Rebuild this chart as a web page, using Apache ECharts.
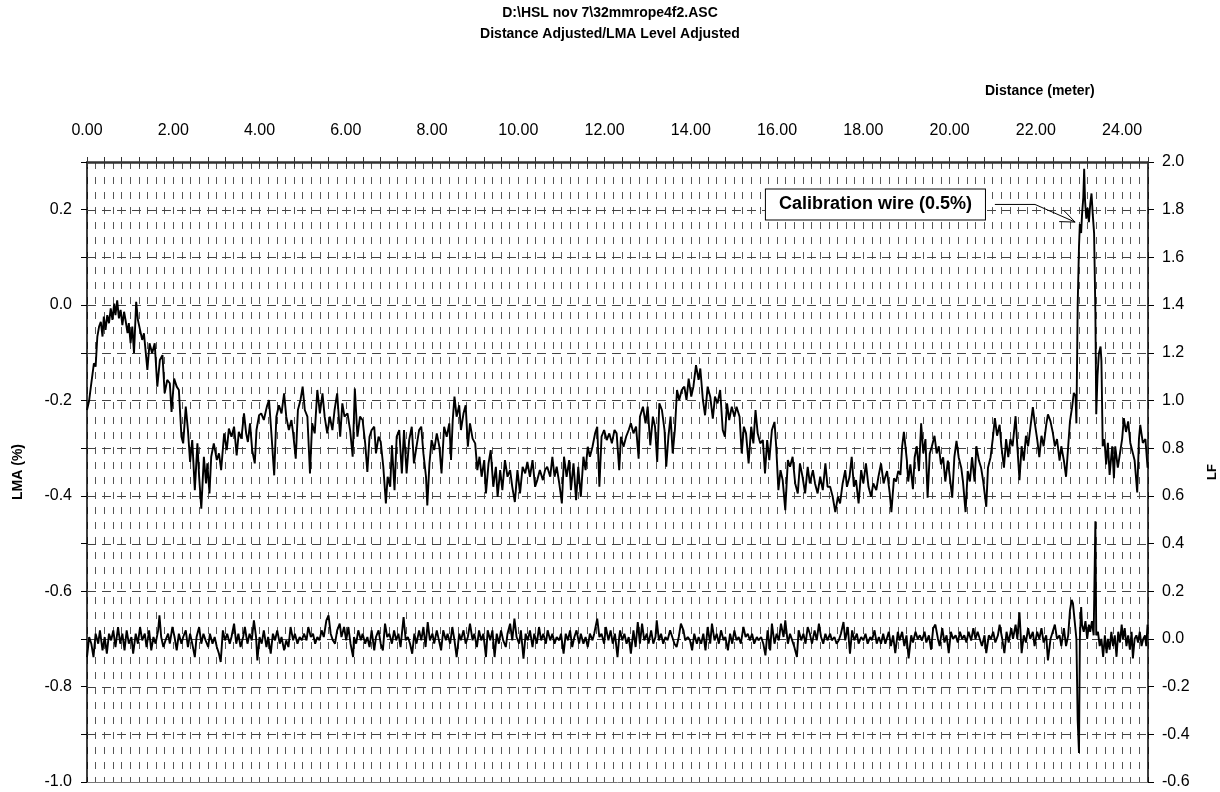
<!DOCTYPE html>
<html>
<head>
<meta charset="utf-8">
<title>LMA / LF trace</title>
<script src="https://cdn.jsdelivr.net/npm/echarts@6/dist/echarts.min.js"></script>
<style>
  html, body { margin: 0; padding: 0; background: #fff; }
  #chart { width: 1220px; height: 792px; }
</style>
</head>
<body>
<div id="chart"></div>
<script>
// ---- data ----
const titleLines = ['D:\\HSL nov 7\\32mmrope4f2.ASC', 'Distance Adjusted/LMA Level Adjusted'];
const distanceName = 'Distance (meter)';
const lmaName = 'LMA (%)';
const lfName = 'LF';
const calloutText = 'Calibration wire (0.5%)';

// LMA (%) along the rope: [distance m, value]
const lmaTrace = [
[0.00,-0.220],[0.05,-0.200],[0.09,-0.171],[0.12,-0.150],[0.16,-0.122],[0.20,-0.129],[0.24,-0.066],[0.28,-0.045],
[0.32,-0.035],[0.36,-0.066],[0.39,-0.024],[0.43,-0.052],[0.47,-0.021],[0.51,-0.038],[0.55,-0.007],[0.59,-0.031],
[0.63,0.003],[0.66,-0.021],[0.70,0.010],[0.74,-0.028],[0.78,-0.010],[0.82,-0.042],[0.86,-0.014],[0.90,-0.035],
[0.94,-0.059],[0.97,-0.038],[1.01,-0.080],[1.05,-0.045],[1.09,-0.101],[1.14,0.007],[1.18,-0.031],[1.23,-0.052],
[1.28,-0.073],[1.32,-0.059],[1.40,-0.136],[1.45,-0.080],[1.51,-0.101],[1.57,-0.080],[1.63,-0.171],[1.69,-0.115],
[1.75,-0.105],[1.80,-0.185],[1.86,-0.157],[1.92,-0.164],[1.96,-0.224],[2.02,-0.154],[2.08,-0.171],[2.13,-0.178],
[2.19,-0.276],[2.23,-0.290],[2.29,-0.213],[2.34,-0.262],[2.39,-0.329],[2.44,-0.283],[2.50,-0.388],[2.56,-0.290],
[2.60,-0.360],[2.65,-0.427],[2.71,-0.318],[2.76,-0.374],[2.79,-0.332],[2.84,-0.395],[2.88,-0.318],[2.94,-0.290],
[3.01,-0.325],[3.06,-0.311],[3.11,-0.346],[3.18,-0.269],[3.24,-0.304],[3.29,-0.259],[3.35,-0.276],[3.41,-0.255],
[3.47,-0.315],[3.52,-0.266],[3.58,-0.280],[3.64,-0.227],[3.69,-0.269],[3.73,-0.287],[3.78,-0.248],[3.83,-0.304],
[3.89,-0.332],[3.93,-0.262],[3.99,-0.231],[4.04,-0.227],[4.10,-0.241],[4.17,-0.213],[4.22,-0.199],[4.27,-0.262],
[4.34,-0.357],[4.39,-0.234],[4.45,-0.210],[4.51,-0.227],[4.57,-0.185],[4.62,-0.234],[4.68,-0.262],[4.74,-0.241],
[4.78,-0.269],[4.84,-0.322],[4.89,-0.220],[4.95,-0.199],[5.00,-0.171],[5.05,-0.220],[5.11,-0.234],[5.17,-0.353],
[5.22,-0.248],[5.28,-0.269],[5.34,-0.178],[5.40,-0.227],[5.46,-0.185],[5.51,-0.234],[5.57,-0.269],[5.63,-0.234],
[5.69,-0.262],[5.74,-0.220],[5.80,-0.185],[5.87,-0.276],[5.92,-0.206],[5.97,-0.234],[6.04,-0.227],[6.10,-0.262],
[6.16,-0.318],[6.21,-0.175],[6.27,-0.276],[6.33,-0.234],[6.39,-0.241],[6.45,-0.290],[6.50,-0.350],[6.55,-0.276],
[6.60,-0.262],[6.66,-0.255],[6.70,-0.311],[6.76,-0.276],[6.81,-0.287],[6.87,-0.339],[6.93,-0.416],[6.97,-0.360],
[7.03,-0.381],[7.07,-0.294],[7.13,-0.388],[7.18,-0.276],[7.24,-0.262],[7.30,-0.353],[7.35,-0.262],[7.41,-0.353],
[7.47,-0.283],[7.53,-0.255],[7.58,-0.332],[7.64,-0.297],[7.70,-0.262],[7.75,-0.255],[7.80,-0.311],[7.86,-0.360],
[7.89,-0.420],[7.94,-0.332],[7.99,-0.283],[8.05,-0.304],[8.11,-0.269],[8.17,-0.297],[8.22,-0.353],[8.28,-0.255],
[8.34,-0.276],[8.40,-0.248],[8.44,-0.325],[8.48,-0.241],[8.52,-0.192],[8.57,-0.234],[8.63,-0.210],[8.67,-0.262],
[8.73,-0.227],[8.78,-0.210],[8.83,-0.297],[8.88,-0.248],[8.94,-0.280],[9.00,-0.290],[9.05,-0.346],[9.10,-0.318],
[9.15,-0.360],[9.21,-0.325],[9.25,-0.395],[9.31,-0.332],[9.36,-0.304],[9.42,-0.381],[9.48,-0.339],[9.52,-0.402],
[9.58,-0.346],[9.63,-0.388],[9.69,-0.325],[9.75,-0.360],[9.81,-0.346],[9.86,-0.381],[9.92,-0.413],[9.98,-0.346],
[10.04,-0.395],[10.10,-0.339],[10.16,-0.353],[10.21,-0.329],[10.27,-0.360],[10.33,-0.325],[10.39,-0.381],[10.44,-0.367],
[10.50,-0.346],[10.57,-0.367],[10.62,-0.346],[10.67,-0.339],[10.74,-0.360],[10.79,-0.318],[10.84,-0.360],[10.89,-0.339],
[10.95,-0.374],[11.01,-0.416],[11.06,-0.318],[11.12,-0.360],[11.18,-0.325],[11.22,-0.388],[11.28,-0.332],[11.34,-0.409],
[11.39,-0.339],[11.45,-0.402],[11.51,-0.318],[11.56,-0.346],[11.61,-0.297],[11.66,-0.318],[11.72,-0.297],[11.78,-0.269],
[11.83,-0.255],[11.88,-0.381],[11.93,-0.276],[11.99,-0.262],[12.05,-0.283],[12.11,-0.269],[12.17,-0.290],[12.23,-0.262],
[12.28,-0.269],[12.34,-0.346],[12.38,-0.276],[12.44,-0.297],[12.50,-0.276],[12.56,-0.262],[12.61,-0.248],[12.67,-0.269],
[12.73,-0.255],[12.79,-0.322],[12.82,-0.234],[12.89,-0.213],[12.95,-0.248],[13.00,-0.213],[13.06,-0.294],[13.12,-0.234],
[13.17,-0.255],[13.22,-0.329],[13.27,-0.206],[13.33,-0.220],[13.39,-0.262],[13.43,-0.339],[13.48,-0.276],[13.53,-0.234],
[13.58,-0.311],[13.63,-0.262],[13.68,-0.178],[13.73,-0.199],[13.79,-0.178],[13.85,-0.171],[13.90,-0.199],[13.95,-0.154],
[14.01,-0.192],[14.06,-0.171],[14.12,-0.126],[14.18,-0.157],[14.22,-0.133],[14.28,-0.199],[14.33,-0.231],[14.39,-0.171],
[14.45,-0.192],[14.51,-0.238],[14.56,-0.192],[14.62,-0.206],[14.68,-0.178],[14.74,-0.262],[14.79,-0.276],[14.84,-0.206],
[14.89,-0.241],[14.95,-0.213],[15.01,-0.234],[15.06,-0.213],[15.13,-0.234],[15.18,-0.311],[15.23,-0.255],[15.28,-0.269],
[15.34,-0.332],[15.40,-0.255],[15.45,-0.290],[15.50,-0.220],[15.55,-0.269],[15.61,-0.290],[15.67,-0.283],[15.72,-0.353],
[15.77,-0.283],[15.82,-0.325],[15.88,-0.262],[15.94,-0.245],[15.98,-0.297],[16.03,-0.388],[16.08,-0.346],[16.13,-0.367],
[16.19,-0.430],[16.25,-0.325],[16.30,-0.339],[16.36,-0.318],[16.42,-0.374],[16.48,-0.395],[16.53,-0.332],[16.59,-0.360],
[16.65,-0.395],[16.71,-0.339],[16.76,-0.374],[16.83,-0.346],[16.88,-0.374],[16.94,-0.395],[17.00,-0.360],[17.06,-0.388],
[17.12,-0.332],[17.17,-0.381],[17.23,-0.381],[17.29,-0.402],[17.35,-0.434],[17.41,-0.402],[17.46,-0.416],[17.52,-0.374],
[17.58,-0.346],[17.62,-0.381],[17.68,-0.360],[17.73,-0.318],[17.78,-0.381],[17.83,-0.367],[17.89,-0.416],[17.95,-0.346],
[18.00,-0.374],[18.06,-0.332],[18.12,-0.381],[18.18,-0.402],[18.23,-0.374],[18.30,-0.388],[18.35,-0.360],[18.41,-0.332],
[18.47,-0.374],[18.50,-0.363],[18.55,-0.348],[18.61,-0.393],[18.65,-0.434],[18.71,-0.363],[18.76,-0.370],[18.81,-0.348],
[18.86,-0.356],[18.90,-0.296],[18.94,-0.266],[19.01,-0.326],[19.04,-0.370],[19.09,-0.334],[19.15,-0.386],[19.19,-0.319],
[19.24,-0.296],[19.29,-0.348],[19.34,-0.248],[19.39,-0.311],[19.44,-0.281],[19.49,-0.404],[19.54,-0.311],[19.59,-0.296],
[19.65,-0.274],[19.70,-0.311],[19.75,-0.296],[19.80,-0.334],[19.85,-0.319],[19.90,-0.370],[19.96,-0.326],[20.00,-0.356],
[20.06,-0.404],[20.11,-0.319],[20.16,-0.285],[20.21,-0.319],[20.27,-0.341],[20.31,-0.370],[20.37,-0.434],[20.42,-0.348],
[20.47,-0.370],[20.52,-0.319],[20.58,-0.370],[20.62,-0.296],[20.68,-0.326],[20.73,-0.341],[20.78,-0.370],[20.85,-0.423],
[20.89,-0.341],[20.95,-0.319],[21.00,-0.281],[21.05,-0.237],[21.10,-0.274],[21.16,-0.251],[21.20,-0.296],[21.26,-0.341],
[21.31,-0.281],[21.36,-0.319],[21.41,-0.281],[21.46,-0.296],[21.53,-0.233],[21.57,-0.296],[21.62,-0.367],[21.67,-0.296],
[21.72,-0.326],[21.77,-0.274],[21.82,-0.296],[21.87,-0.259],[21.93,-0.214],[21.97,-0.244],[22.03,-0.281],[22.08,-0.319],
[22.13,-0.274],[22.18,-0.296],[22.24,-0.251],[22.28,-0.229],[22.34,-0.244],[22.39,-0.266],[22.44,-0.296],[22.49,-0.281],
[22.55,-0.326],[22.59,-0.296],[22.65,-0.326],[22.70,-0.360],[22.75,-0.296],[22.79,-0.244],[22.84,-0.214],[22.88,-0.184],
[22.92,-0.191],[22.94,-0.248],[22.97,0.002],[23.00,0.122],[23.02,0.170],[23.05,0.151],[23.07,0.189],[23.10,0.226],
[23.12,0.286],[23.14,0.219],[23.17,0.181],[23.20,0.204],[23.23,0.174],[23.26,0.211],[23.29,0.234],[23.32,0.189],
[23.35,0.151],[23.38,-0.014],[23.40,-0.229],[23.43,-0.147],[23.46,-0.102],[23.50,-0.087],[23.52,-0.117],[23.55,-0.296],
[23.59,-0.281],[23.63,-0.334],[23.67,-0.289],[23.71,-0.356],[23.77,-0.296],[23.81,-0.363],[23.84,-0.296],[23.90,-0.341],
[23.95,-0.311],[24.00,-0.281],[24.04,-0.237],[24.09,-0.266],[24.14,-0.244],[24.19,-0.289],[24.25,-0.311],[24.29,-0.326],
[24.35,-0.393],[24.39,-0.281],[24.42,-0.251],[24.48,-0.289],[24.54,-0.281],[24.59,-0.341]
];

// LF along the rope: [distance m, value]
const lfTrace = [
[0.00,-0.076],[0.05,0.008],[0.10,-0.020],[0.15,-0.076],[0.20,0.022],[0.26,-0.020],[0.30,0.036],[0.36,-0.048],
[0.41,0.008],[0.46,-0.062],[0.51,0.022],[0.56,-0.006],[0.61,0.036],[0.66,-0.034],[0.72,0.050],[0.77,-0.020],
[0.82,0.022],[0.87,-0.048],[0.92,0.036],[0.97,-0.020],[1.03,0.008],[1.07,-0.062],[1.13,0.022],[1.18,-0.020],
[1.23,0.050],[1.28,-0.006],[1.34,0.022],[1.38,-0.034],[1.44,0.036],[1.49,-0.048],[1.54,0.008],[1.59,-0.020],
[1.65,0.036],[1.68,0.099],[1.72,0.008],[1.77,-0.034],[1.82,-0.006],[1.88,0.022],[1.92,-0.020],[1.98,0.050],
[2.03,0.008],[2.08,-0.048],[2.13,0.022],[2.19,-0.020],[2.23,0.008],[2.29,0.036],[2.34,-0.034],[2.39,0.022],
[2.44,-0.020],[2.50,-0.076],[2.54,0.008],[2.60,0.050],[2.65,-0.020],[2.70,0.022],[2.75,-0.006],[2.81,-0.034],
[2.85,0.022],[2.91,-0.020],[2.96,0.008],[3.01,-0.034],[3.06,-0.062],[3.10,-0.097],[3.15,0.036],[3.20,-0.006],
[3.25,0.022],[3.31,-0.020],[3.35,0.008],[3.41,0.064],[3.46,-0.020],[3.51,0.022],[3.56,-0.034],[3.62,0.008],
[3.66,0.050],[3.72,-0.020],[3.77,0.022],[3.82,-0.006],[3.87,0.078],[3.92,0.008],[3.95,-0.090],[4.00,0.008],
[4.05,-0.020],[4.10,0.036],[4.16,-0.034],[4.20,0.008],[4.26,-0.062],[4.31,0.022],[4.36,-0.006],[4.41,0.036],
[4.47,-0.020],[4.51,0.008],[4.57,-0.048],[4.62,-0.006],[4.67,-0.034],[4.72,0.050],[4.78,-0.006],[4.82,0.022],
[4.88,-0.020],[4.93,0.008],[4.98,-0.006],[5.03,0.022],[5.09,-0.006],[5.13,0.050],[5.19,0.008],[5.24,0.022],
[5.29,-0.020],[5.34,0.008],[5.39,-0.006],[5.44,0.036],[5.49,0.008],[5.55,0.078],[5.60,0.099],[5.65,0.022],
[5.70,-0.006],[5.75,-0.020],[5.80,0.036],[5.86,0.064],[5.90,0.008],[5.96,0.050],[6.01,-0.006],[6.06,0.050],
[6.11,-0.020],[6.17,-0.076],[6.19,0.008],[6.24,-0.020],[6.29,0.036],[6.35,-0.006],[6.39,0.022],[6.45,-0.020],
[6.50,0.008],[6.55,-0.034],[6.60,0.036],[6.66,-0.048],[6.70,0.008],[6.76,0.036],[6.81,-0.020],[6.86,-0.048],
[6.91,0.064],[6.96,0.008],[7.01,0.022],[7.07,-0.020],[7.12,0.036],[7.17,-0.006],[7.22,0.022],[7.27,-0.034],
[7.34,0.092],[7.39,-0.006],[7.44,0.008],[7.49,-0.020],[7.54,-0.062],[7.59,0.022],[7.64,-0.020],[7.70,0.036],
[7.75,-0.006],[7.80,0.050],[7.85,-0.034],[7.90,0.071],[7.95,-0.006],[8.01,0.022],[8.05,-0.020],[8.11,0.036],
[8.16,-0.006],[8.21,-0.048],[8.26,0.036],[8.32,-0.006],[8.36,0.022],[8.42,-0.020],[8.47,0.050],[8.52,-0.006],
[8.57,-0.076],[8.63,0.022],[8.67,-0.006],[8.73,0.036],[8.78,-0.020],[8.83,0.008],[8.88,0.064],[8.94,-0.006],
[8.98,0.022],[9.04,-0.034],[9.09,0.036],[9.14,-0.006],[9.19,0.022],[9.25,-0.076],[9.29,0.036],[9.35,-0.006],
[9.40,0.036],[9.45,-0.076],[9.50,0.022],[9.55,-0.020],[9.60,0.036],[9.65,-0.006],[9.71,-0.034],[9.75,0.022],
[9.81,0.064],[9.86,-0.006],[9.91,0.085],[9.96,0.008],[10.02,-0.020],[10.06,0.036],[10.12,-0.083],[10.17,0.022],
[10.22,-0.006],[10.27,0.036],[10.33,-0.034],[10.37,0.022],[10.43,-0.020],[10.48,0.050],[10.53,-0.006],[10.58,0.022],
[10.64,-0.020],[10.68,0.036],[10.74,-0.006],[10.79,0.022],[10.84,-0.020],[10.89,0.008],[10.95,-0.006],[10.99,0.022],
[11.05,-0.062],[11.10,0.022],[11.15,-0.006],[11.20,0.036],[11.25,-0.034],[11.30,0.008],[11.35,0.036],[11.41,-0.020],
[11.45,0.022],[11.51,-0.020],[11.56,0.008],[11.61,-0.034],[11.66,0.022],[11.72,-0.006],[11.76,0.022],[11.83,0.085],
[11.88,0.008],[11.93,0.022],[11.99,-0.020],[12.03,0.050],[12.09,-0.006],[12.14,0.036],[12.19,-0.020],[12.24,0.022],
[12.30,-0.076],[12.34,0.008],[12.36,0.036],[12.41,-0.006],[12.46,0.022],[12.51,-0.020],[12.56,0.008],[12.61,-0.062],
[12.67,0.036],[12.72,-0.034],[12.77,0.071],[12.82,-0.020],[12.87,0.064],[12.92,-0.006],[12.98,0.022],[13.02,-0.020],
[13.08,0.036],[13.13,-0.020],[13.18,0.008],[13.21,0.078],[13.26,-0.006],[13.31,0.022],[13.36,-0.020],[13.41,0.008],
[13.46,-0.006],[13.52,0.036],[13.57,0.008],[13.62,-0.020],[13.67,-0.034],[13.72,0.008],[13.77,0.064],[13.83,0.036],
[13.87,-0.006],[13.93,0.008],[13.98,-0.006],[14.03,-0.048],[14.08,0.022],[14.14,-0.020],[14.18,0.008],[14.24,-0.020],
[14.29,0.022],[14.34,-0.048],[14.39,0.050],[14.45,-0.020],[14.49,0.064],[14.55,-0.006],[14.60,0.022],[14.65,-0.020],
[14.70,0.036],[14.76,-0.006],[14.80,0.008],[14.86,-0.048],[14.91,0.022],[14.96,-0.020],[15.01,0.036],[15.06,-0.006],
[15.11,0.008],[15.16,-0.020],[15.22,0.050],[15.27,0.008],[15.32,0.022],[15.37,-0.006],[15.42,0.022],[15.47,-0.020],
[15.53,0.008],[15.57,-0.006],[15.63,0.008],[15.68,-0.020],[15.73,-0.069],[15.78,0.036],[15.84,-0.048],[15.88,0.064],
[15.94,-0.020],[15.99,0.022],[16.04,-0.006],[16.09,0.064],[16.15,0.008],[16.19,0.078],[16.25,-0.020],[16.30,0.022],
[16.35,-0.006],[16.40,-0.034],[16.46,-0.076],[16.50,0.036],[16.56,-0.006],[16.61,0.022],[16.66,-0.020],[16.71,0.050],
[16.76,0.022],[16.81,-0.020],[16.87,0.036],[16.92,-0.006],[16.97,0.064],[17.02,0.008],[17.07,-0.020],[17.12,0.022],
[17.17,-0.006],[17.23,0.022],[17.27,-0.006],[17.33,0.008],[17.38,-0.020],[17.43,-0.006],[17.48,0.022],[17.54,0.071],
[17.58,-0.006],[17.64,0.050],[17.69,-0.062],[17.74,0.036],[17.79,-0.006],[17.85,0.022],[17.89,-0.020],[17.95,0.008],
[18.00,-0.006],[18.05,0.022],[18.10,-0.020],[18.16,0.008],[18.20,-0.006],[18.26,0.036],[18.31,-0.020],[18.36,0.008],
[18.41,-0.020],[18.46,0.022],[18.51,-0.020],[18.54,-0.015],[18.59,0.030],[18.64,-0.030],[18.69,0.015],[18.74,-0.060],
[18.80,0.030],[18.84,-0.007],[18.90,0.030],[18.95,-0.030],[19.00,0.015],[19.05,-0.082],[19.11,0.015],[19.15,-0.015],
[19.21,0.030],[19.26,0.000],[19.31,0.015],[19.36,-0.007],[19.42,0.030],[19.46,-0.015],[19.52,0.015],[19.57,-0.045],
[19.62,0.045],[19.67,0.060],[19.73,0.000],[19.77,-0.030],[19.83,0.045],[19.88,-0.015],[19.93,0.015],[19.98,-0.060],
[20.03,0.030],[20.08,0.000],[20.14,0.015],[20.19,-0.015],[20.24,0.030],[20.29,0.000],[20.34,0.015],[20.39,-0.015],
[20.44,0.030],[20.50,-0.007],[20.55,0.045],[20.60,0.000],[20.65,0.030],[20.70,0.000],[20.75,-0.030],[20.81,0.015],
[20.85,-0.060],[20.91,0.015],[20.96,0.000],[21.01,0.030],[21.06,-0.015],[21.12,0.015],[21.16,0.060],[21.22,0.000],
[21.27,-0.060],[21.32,0.030],[21.37,-0.015],[21.43,0.045],[21.47,0.000],[21.53,0.060],[21.57,0.000],[21.62,0.112],
[21.67,-0.060],[21.72,0.015],[21.77,-0.015],[21.82,0.045],[21.87,0.000],[21.93,0.030],[21.97,-0.030],[22.03,0.030],
[22.08,0.000],[22.13,0.045],[22.18,-0.015],[22.24,0.015],[22.28,-0.090],[22.34,0.000],[22.39,0.030],[22.44,0.060],
[22.49,0.000],[22.55,0.015],[22.59,-0.030],[22.65,0.045],[22.70,-0.030],[22.75,0.015],[22.79,0.119],[22.83,0.164],
[22.86,0.149],[22.90,0.075],[22.94,0.000],[22.97,-0.343],[23.00,-0.478],[23.02,0.000],[23.05,0.134],[23.07,0.060],
[23.11,0.030],[23.15,0.075],[23.19,0.000],[23.23,0.060],[23.26,0.030],[23.30,0.075],[23.34,0.015],[23.38,0.493],
[23.40,0.015],[23.44,0.030],[23.48,-0.030],[23.52,0.000],[23.56,-0.075],[23.60,0.015],[23.64,-0.060],[23.67,0.000],
[23.71,-0.045],[23.75,0.030],[23.79,-0.030],[23.83,0.015],[23.87,-0.075],[23.91,0.030],[23.95,-0.015],[23.99,0.060],
[24.02,0.000],[24.06,0.045],[24.10,-0.030],[24.14,0.015],[24.18,-0.045],[24.22,0.030],[24.25,-0.082],[24.29,0.000],
[24.33,0.015],[24.37,-0.015],[24.41,0.030],[24.45,-0.030],[24.49,0.000],[24.53,0.015],[24.56,-0.030],[24.59,0.060]
];

// ---- chart ----
const FONT = '"Liberation Sans", Arial, sans-serif';
const X_MIN = 0, X_MAX = 24.6;
const chart = echarts.init(document.getElementById('chart'), null, { renderer: 'canvas' });

const isMultiple = (v, step) => Math.abs(v / step - Math.round(v / step)) < 1e-6;
const gridColor = '#555';

const option = {
  animation: false,
  backgroundColor: '#fff',
  textStyle: { fontFamily: FONT },
  title: [
    {
      text: titleLines.join('\n'),
      left: 'center', top: 3, padding: 0,
      textStyle: { fontFamily: FONT, fontSize: 14, fontWeight: 'bold', color: '#000', lineHeight: 21 }
    },
    {
      text: distanceName,
      left: 985, top: 84, padding: 0,
      textStyle: { fontFamily: FONT, fontSize: 14, fontWeight: 'bold', color: '#000' }
    }
  ],
  grid: { left: 87, right: 72, top: 162, bottom: 10, containLabel: false, outerBoundsMode: 'none' },
  xAxis: [
    { // labelled top axis, ticks above the line
      type: 'value', position: 'top', min: X_MIN, max: X_MAX, interval: 0.4,
      axisLine: { show: true, onZero: false, lineStyle: { color: '#333', width: 2.5 } },
      axisTick: { show: true, inside: false, length: 5, lineStyle: { color: '#333', width: 1 } },
      axisLabel: {
        margin: 23, fontSize: 16, color: '#000', fontFamily: FONT,
        formatter: v => (isMultiple(v, 2) && v < 24.5 ? v.toFixed(2) : '')
      },
      splitLine: { show: false }
    },
    { // same scale, ticks below the line
      type: 'value', position: 'top', min: X_MIN, max: X_MAX, interval: 0.4,
      axisLine: { show: false, onZero: false },
      axisTick: { show: true, inside: true, length: 5, lineStyle: { color: '#333', width: 1 } },
      axisLabel: { show: false },
      splitLine: { show: false }
    },
    { // vertical dashed grid every 0.2 m
      type: 'value', position: 'top', min: X_MIN, max: X_MAX, interval: 0.2,
      axisLine: { show: false, onZero: false }, axisTick: { show: false }, axisLabel: { show: false },
      splitLine: { show: true, lineStyle: { color: gridColor, width: 1, type: [7, 8] } }
    },
    { // plot bottom edge
      type: 'value', position: 'bottom', min: X_MIN, max: X_MAX,
      axisLine: { show: true, onZero: false, lineStyle: { color: '#777', width: 1 } },
      axisTick: { show: false }, axisLabel: { show: false }, splitLine: { show: false }
    }
  ],
  yAxis: [
    {
      type: 'value', position: 'left', min: -1.0, max: 0.3, interval: 0.1,
      name: lmaName, nameLocation: 'middle', nameRotate: 90, nameGap: 62,
      nameTextStyle: { fontFamily: FONT, fontSize: 14, fontWeight: 'bold', color: '#000' },
      axisLine: { show: true, onZero: false, lineStyle: { color: '#000', width: 1.5 } },
      axisTick: { show: true, inside: false, length: 6, lineStyle: { color: '#000', width: 1 } },
      axisLabel: {
        margin: 15, fontSize: 16, color: '#000', fontFamily: FONT,
        formatter: v => (isMultiple(v, 0.2) ? (Math.abs(v) < 1e-9 ? 0 : v).toFixed(1) : '')
      },
      splitLine: { show: false }
    },
    {
      type: 'value', position: 'right', min: -0.6, max: 2.0, interval: 0.2,
      name: lfName, nameLocation: 'middle', nameRotate: 90, nameGap: 58,
      nameTextStyle: { fontFamily: FONT, fontSize: 13, fontWeight: 'bold', color: '#000' },
      axisLine: { show: true, onZero: false, lineStyle: { color: '#000', width: 1.5 } },
      axisTick: { show: true, inside: false, length: 6, lineStyle: { color: '#000', width: 1 } },
      axisLabel: {
        margin: 14, fontSize: 16, color: '#000', fontFamily: FONT,
        formatter: v => (Math.abs(v) < 1e-9 ? 0 : v).toFixed(1)
      },
      splitLine: { show: false }
    }
  ],
  series: [
    {
      name: lmaName, type: 'line', xAxisIndex: 0, yAxisIndex: 0,
      data: lmaTrace, showSymbol: false, symbol: 'none',
      lineStyle: { color: '#000', width: 1.9 }, z: 5
    },
    {
      name: lfName, type: 'line', xAxisIndex: 0, yAxisIndex: 1,
      data: lfTrace, showSymbol: false, symbol: 'none',
      lineStyle: { color: '#000', width: 1.9 }, z: 5
    }
  ]
};
chart.setOption(option);

// Horizontal dashed grid (one per 0.1 LMA) and the calibration callout,
// both placed through the chart's own LMA/distance scales.
(function drawOverlay() {
  const toPx = (d, v) => chart.convertToPixel({ xAxisIndex: 0, yAxisIndex: 0 }, [d, v]);
  const elements = [];

  for (let i = -9; i <= 2; i++) {
    const a = toPx(X_MIN, i / 10), b = toPx(X_MAX, i / 10);
    const y = Math.round(a[1]) + 0.5;
    elements.push({
      type: 'line', z: 1, silent: true,
      shape: { x1: a[0], y1: y, x2: b[0], y2: y },
      style: { stroke: '#444', lineWidth: 1, lineDash: [9, 6] }
    });
  }

  const boxRight = toPx(20.82, 0.211);
  const p1 = toPx(21.05, 0.211);
  const p2 = toPx(21.98, 0.211);
  const tip = toPx(22.91, 0.174);
  const ang = Math.atan2(tip[1] - p2[1], tip[0] - p2[0]);
  const len = 16, spread = 22 * Math.PI / 180;
  const b1 = [tip[0] - len * Math.cos(ang - spread), tip[1] - len * Math.sin(ang - spread)];
  const b2 = [tip[0] - len * Math.cos(ang + spread), tip[1] - len * Math.sin(ang + spread)];

  elements.push(
    {
      type: 'text', x: boxRight[0], y: boxRight[1], z: 100,
      style: {
        text: calloutText, font: 'bold 18px ' + FONT, fill: '#000',
        align: 'right', verticalAlign: 'middle',
        backgroundColor: '#fff', borderColor: '#000', borderWidth: 1,
        padding: [6, 13, 6, 13]
      }
    },
    {
      type: 'polyline', z: 100,
      shape: { points: [p1, p2, tip] },
      style: { stroke: '#000', lineWidth: 1, fill: null }
    },
    {
      type: 'polyline', z: 100,
      shape: { points: [b1, tip, b2] },
      style: { stroke: '#000', lineWidth: 1, fill: null }
    }
  );
  chart.setOption({ graphic: elements });
})();
</script>
</body>
</html>
